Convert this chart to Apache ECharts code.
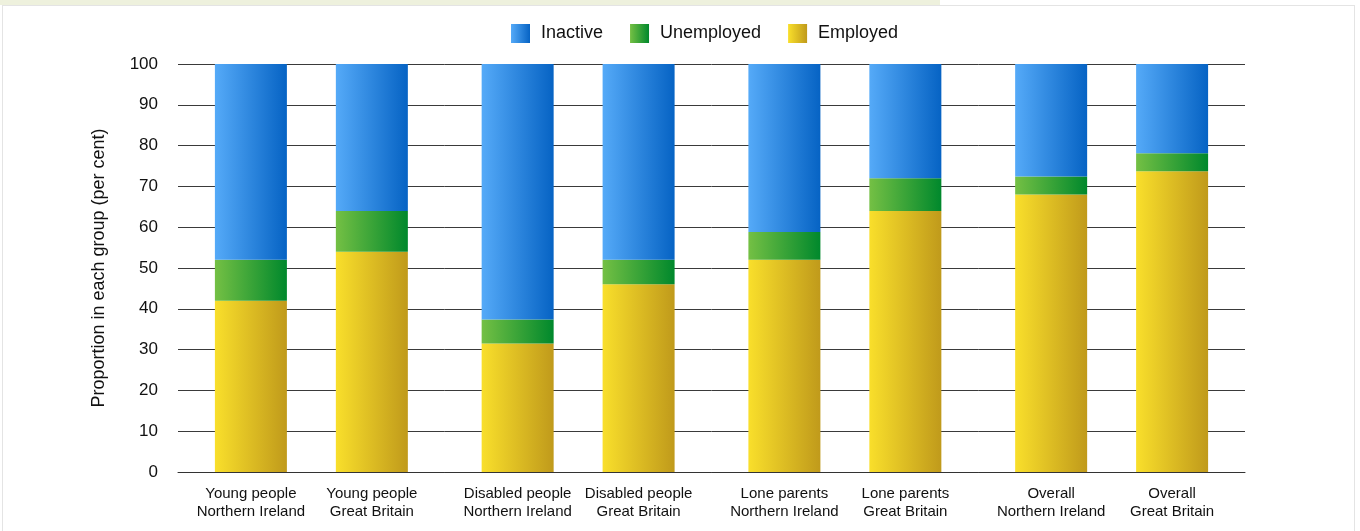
<!DOCTYPE html>
<html>
<head>
<meta charset="utf-8">
<script src="https://cdn.jsdelivr.net/npm/echarts@6/dist/echarts.min.js"></script>
<style>
  html, body { margin: 0; padding: 0; background: #fff; width: 1360px; height: 531px; overflow: hidden; }
  #strip { position: absolute; left: 0; top: 0; width: 940px; height: 5px; background: #eef1dd; }
  #card { position: absolute; left: 2px; top: 5px; width: 1353px; height: 530px; border: 1px solid #e4e4e4; box-sizing: border-box; background: #fff; }
  #chart { position: absolute; left: 0; top: 0; width: 1360px; height: 531px; }
</style>
</head>
<body>
<div id="strip"></div>
<div id="card"></div>
<div id="chart"></div>
<script>
// ---- data ----
const groups = ['Young people', 'Disabled people', 'Lone parents', 'Overall'];
const regions = ['Northern Ireland', 'Great Britain'];
const seriesNames = ['Inactive', 'Unemployed', 'Employed'];
const employedNI = [42, 31.5, 52, 68];
const unemployedNI = [10, 5.9, 6.8, 4.4];
const inactiveNI = [48, 62.6, 41.2, 27.6];
const employedGB = [54, 46, 64, 73.7];
const unemployedGB = [10, 6, 8, 4.4];
const inactiveGB = [36, 48, 28, 21.9];
const yTicks = { min: 0, max: 100, interval: 10 };

// ---- styles ----
function grad(a, b) {
  return new echarts.graphic.LinearGradient(0, 0, 1, 0, [
    { offset: 0, color: a }, { offset: 1, color: b }
  ]);
}
const colors = {
  Inactive: grad('#55aaf8', '#0663c4'),
  Unemployed: grad('#74c044', '#00882c'),
  Employed: grad('#f9df2b', '#c09a1b')
};
const FONT = '"Liberation Sans", Arial, Helvetica, sans-serif';

function mk(name, data, stack, regionIdx) {
  const s = {
    name: name,
    type: 'bar',
    stack: stack,
    data: data,
    barWidth: 72,
    barGap: '68%',
    itemStyle: { color: colors[name] },
    emphasis: { disabled: true }
  };
  if (name === 'Employed') {
    s.label = {
      show: true,
      position: 'bottom',
      distance: 13,
      color: '#111',
      fontSize: 15,
      lineHeight: 18,
      fontFamily: FONT,
      align: 'center',
      formatter: function (p) { return groups[p.dataIndex] + '\n' + regions[regionIdx]; }
    };
  }
  return s;
}

const chart = echarts.init(document.getElementById('chart'), null, { renderer: 'canvas' });
chart.setOption({
  animation: false,
  backgroundColor: 'transparent',
  textStyle: { fontFamily: FONT },
  legend: {
    data: seriesNames,
    top: 24,
    left: 511,
    icon: 'rect',
    itemWidth: 19,
    itemHeight: 19,
    itemGap: 27,
    padding: 0,
    textStyle: { fontSize: 18, color: '#111', fontFamily: FONT, padding: [0, 0, 0, 6] }
  },
  grid: { left: 178, right: 115, top: 64, bottom: 59, containLabel: false },
  xAxis: {
    type: 'category',
    data: groups,
    axisLine: { lineStyle: { color: '#333', width: 1 } },
    axisTick: { show: false },
    axisLabel: { show: false }
  },
  yAxis: {
    type: 'value',
    min: yTicks.min, max: yTicks.max, interval: yTicks.interval,
    name: 'Proportion in each group (per cent)',
    nameLocation: 'middle',
    nameGap: 70,
    nameTextStyle: { fontSize: 18, color: '#111', fontFamily: FONT },
    axisLine: { show: false },
    axisTick: { show: false },
    axisLabel: { fontSize: 17, color: '#111', margin: 20, fontFamily: FONT },
    splitLine: { lineStyle: { color: '#3a3a3a', width: 1 } }
  },
  series: [
    mk('Employed', employedNI, 'NI', 0),
    mk('Unemployed', unemployedNI, 'NI', 0),
    mk('Inactive', inactiveNI, 'NI', 0),
    mk('Employed', employedGB, 'GB', 1),
    mk('Unemployed', unemployedGB, 'GB', 1),
    mk('Inactive', inactiveGB, 'GB', 1)
  ]
});
</script>
</body>
</html>
